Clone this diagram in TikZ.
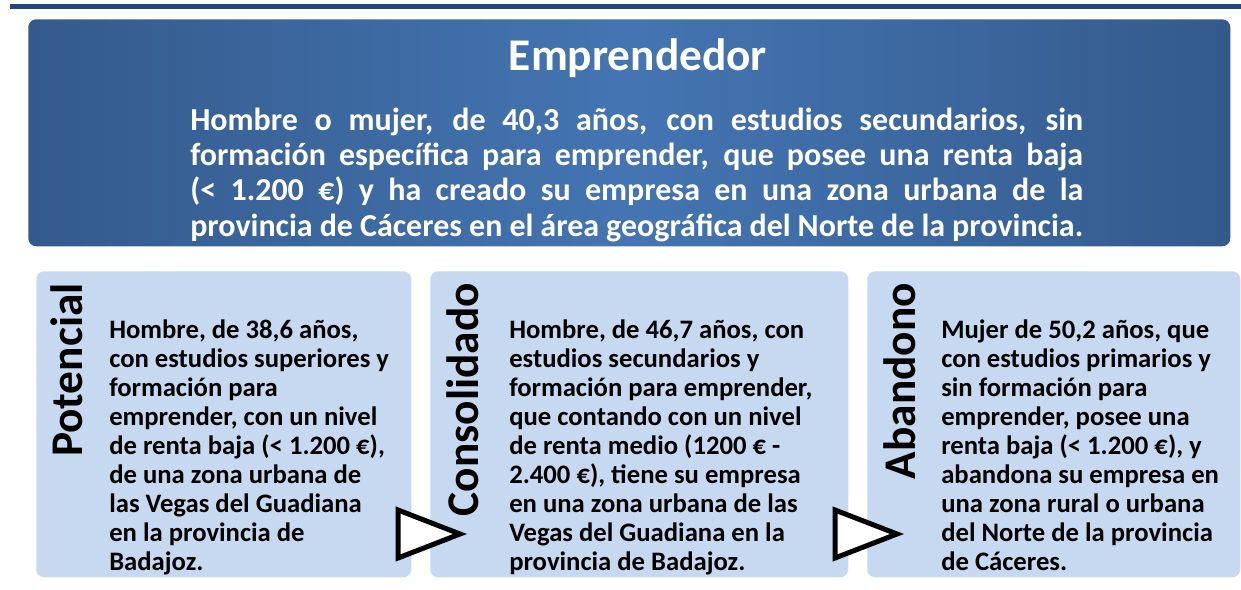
\documentclass[tikz,border=0pt]{standalone}
\usepackage{fontspec}
\setmainfont{Carlito}
\definecolor{topline}{RGB}{31,73,125}
\definecolor{gradedge}{RGB}{52,90,140}
\definecolor{gradmid}{RGB}{68,117,178}
\definecolor{lightbox}{RGB}{198,217,240}
\tikzset{
  stagebox/.style={anchor=north west, fill=lightbox, rounded corners=6pt, inner sep=0pt, minimum height=229.5pt},
  stagelabel/.style={anchor=base east, rotate=90, inner sep=0pt, font=\bfseries\fontsize{34}{40}\selectfont},
  stagetext/.style={anchor=north west, inner sep=0pt, align=left, font=\bfseries\fontsize{20}{21.7}\selectfont},
  flowmark/.style={draw=black, line width=3.75pt, fill=white, line join=miter}
}
\begin{document}
\begin{tikzpicture}[x=0.75pt,y=-0.75pt]
\useasboundingbox[fill=white] (0,0) rectangle (1241,589);
\fill[topline] (10,4) rectangle (1241,9);
\node[anchor=north west, inner sep=0pt, minimum width=901.5pt, minimum height=170.25pt,
      rounded corners=6pt, left color=gradedge, right color=gradedge, middle color=gradmid] (top) at (28,19) {};
\node[anchor=base, inner sep=0pt, text=white, font=\bfseries\fontsize{34}{40}\selectfont] (title) at (638,70) {Emprendedor};
\node[anchor=north west, inner sep=0pt, text width=669.75pt, align=justify, text=white,
      font=\bfseries\fontsize{24}{26.5}\selectfont] (desc) at (190,103.3)
  {\rule{0pt}{20pt}Hombre o mujer, de 40,3 años, con estudios secundarios, sin\linebreak
   formación específica para emprender, que posee una renta baja\linebreak
   (< 1.200 €) y ha creado su empresa en una zona urbana de la\linebreak
   provincia de Cáceres en el área geográfica del Norte de la provincia.};

\node[stagebox, minimum width=281.25pt] (b1) at (36,271) {};
\node[stagebox, minimum width=313.5pt] (b2) at (430,271) {};
\node[stagebox, minimum width=279.75pt] (b3) at (867,271) {};

\node[stagelabel] (l1) at (82,283) {Potencial};
\node[stagelabel] (l2) at (478,283) {Consolidado};
\node[stagelabel] (l3) at (915,283) {Abandono};

\node[stagetext] (t1) at (109,315.7) {\rule{0pt}{17pt}Hombre, de 38,6 años,\\con estudios superiores y\\formación para\\emprender, con un nivel\\de renta baja (< 1.200 €),\\de una zona urbana de\\las Vegas del Guadiana\\en la provincia de\\Badajoz.};
\node[stagetext] (t2) at (509,315.7) {\rule{0pt}{17pt}Hombre, de 46,7 años, con\\estudios secundarios y\\formación para emprender,\\que contando con un nivel\\de renta medio (1200 € -\\2.400 €), tiene su empresa\\en una zona urbana de las\\Vegas del Guadiana en la\\provincia de Badajoz.};
\node[stagetext] (t3) at (941,315.7) {\rule{0pt}{17pt}Mujer de 50,2 años, que\\con estudios primarios y\\sin formación para\\emprender, posee una\\renta baja (< 1.200 €), y\\abandona su empresa en\\una zona rural o urbana\\del Norte de la provincia\\de Cáceres.};

\draw[flowmark] (398,510) -- (398,558) -- (460,534) -- cycle;
\draw[flowmark] (835,510) -- (835,558) -- (897,534) -- cycle;
\end{tikzpicture}
\end{document}
